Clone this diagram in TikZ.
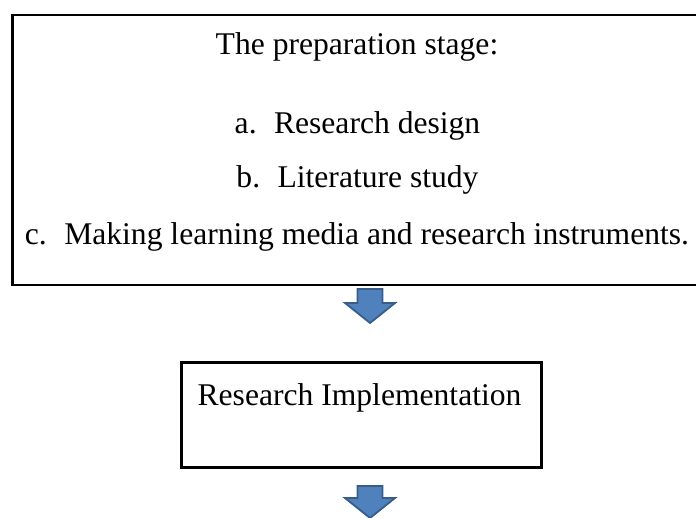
\documentclass[tikz,border=0pt]{standalone}
\usepackage{fontspec}
\setmainfont{Liberation Serif}
\definecolor{arrowfill}{HTML}{4F81BD}
\definecolor{arrowline}{HTML}{385D8A}
\begin{document}
\begin{tikzpicture}[x=1pt,y=-1pt,
  stagebox/.style={draw=black,line width=2.5pt,rectangle,inner sep=0pt},
  label/.style={anchor=base,inner sep=0pt,font=\fontsize{31.6}{38}\selectfont},
  blockarrow/.style={fill=arrowfill,draw=arrowline,line width=1.8pt,line join=miter}]
\useasboundingbox (0,0) rectangle (696,518);
\clip (0,0) rectangle (696,518);
% preparation stage
\node[stagebox,anchor=north west,minimum width=692pt,minimum height=270pt]
  (prep) at (11,14) {};
\node[label] (title) at (357,55) {The preparation stage:};
\node[label] (itema) at (357.5,134) {a.\hspace{0.55em}Research design};
\node[label] (itemb) at (357.5,188) {b.\hspace{0.55em}Literature study};
\node[label] (itemc) at (357,245) {c.\hspace{0.55em}Making learning media and research instruments.};
% implementation stage
\node[stagebox,anchor=north west,minimum width=360pt,minimum height=104.5pt]
  (impl) at (180,361.5) {};
\node[label] (impltext) at (359.5,406) {Research Implementation};
% block arrows: tail points below each stage
\coordinate (tail1) at (370,289);
\coordinate (tail2) at (370,486);
\foreach \t/\len in {tail1/34,tail2/32}{
  \draw[blockarrow] (\t) ++(-12.5,0) -- ++(25,0) -- ++(0,\len-20) -- ++(12.5,0)
    -- ++(-25,20) -- ++(-25,-20) -- ++(12.5,0) -- cycle;
}
\end{tikzpicture}
\end{document}
